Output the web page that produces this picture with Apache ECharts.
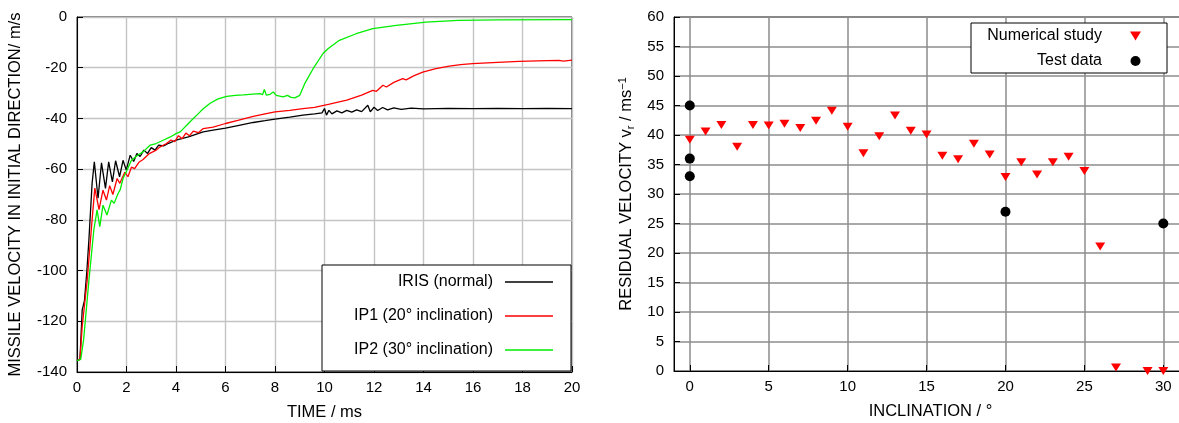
<!DOCTYPE html>
<html>
<head>
<meta charset="utf-8">
<script src="https://cdn.jsdelivr.net/npm/echarts@6/dist/echarts.min.js"></script>
<style>
  html, body { margin: 0; padding: 0; background: #fff; }
  #main { width: 1179px; height: 423px; }
</style>
</head>
<body>
<div id="main"></div>
<script>
// left plot: missile velocity vs time
const irisT = [0, 0.12, 0.21, 0.3, 0.4, 0.48, 0.61, 0.7, 0.85, 0.99, 1.15, 1.28, 1.43, 1.56, 1.72, 1.86, 1.99, 2.15, 2.29,
  2.42, 2.55, 2.7, 2.85, 3.0, 3.15, 3.3, 3.5, 3.7, 4.0, 4.5, 5.1, 5.5, 6.0, 6.5, 7.12, 7.6, 8.0, 8.6, 9.13, 9.6, 9.9,
  10.0, 10.08, 10.18, 10.3, 10.5, 10.7, 10.9, 11.1, 11.3, 11.5, 11.75, 11.85, 12.0, 12.15, 12.35, 12.55, 12.8, 13.1,
  13.5, 14, 15, 16, 17, 18, 19, 20]
const irisV = [-135.5, -135, -115.5, -112, -100, -88, -65.6, -57.1, -71.5, -57.5, -67.6, -57.1, -65, -56.7, -63, -56.5, -60.4, -54.5, -57,
  -53.8, -55, -52.5, -53.8, -51.5, -52.5, -50.5, -50.8, -49.8, -48.6, -47.3, -45.3, -44.6, -43.8, -42.8, -41.6, -40.9, -40.3, -39.5, -38.7, -38.2, -37.8,
  -36.1, -38.7, -36.8, -38.2, -37, -37.8, -36.8, -37.5, -36.6, -37.3, -34.8, -37.4, -35.6, -36.9, -35.7, -36.6, -35.8, -36.4,
  -35.9, -36.2, -36, -36.1, -36, -36.1, -36, -36.1]

const ip1T = [0, 0.12, 0.21, 0.41, 0.61, 0.72, 0.89, 1.05, 1.19, 1.32, 1.45, 1.62, 1.73, 1.93, 2.06, 2.2, 2.33, 2.5, 2.67, 2.9,
  3.2, 3.36, 3.6, 3.8, 3.95, 4.1, 4.25, 4.4, 4.55, 4.7, 4.9, 5.1, 5.5, 6.0, 6.5, 7.12, 7.6, 8.0, 8.6, 9.13, 9.6, 10.2,
  10.9, 11.5, 11.95, 12.1, 12.36, 12.5, 12.8, 13.16, 13.3, 13.6, 13.97, 14.5, 15.04, 15.5, 15.98, 17, 17.86, 19.0,
  19.47, 19.55, 19.65, 20]
const ip1V = [-135.5, -135, -122, -104, -80, -67.5, -76, -68.3, -72.2, -66.5, -70, -63.7, -65.6, -61.2, -63, -59.2, -59.8, -57.3, -56.2, -54,
  -52.5, -51.2, -50, -48.5, -49.2, -46.8, -48, -45.8, -46.8, -45, -45.6, -44, -43.4, -42, -40.8, -39.2, -38.2, -37.4, -36.8, -36.1, -35.6, -34.4,
  -32.8, -30.8, -28.9, -29.3, -26.9, -27.6, -25.8, -24.3, -24.8, -23.2, -21.7, -20.4, -19.4, -18.8, -18.4, -17.9, -17.5, -17.2,
  -17.1, -16.5, -17.4, -17]

const ip2T = [0, 0.15, 0.27, 0.48, 0.68, 0.81, 0.92, 1.05, 1.21, 1.39, 1.5, 1.66, 1.75, 1.86, 1.99, 2.2, 2.45, 2.67, 2.96,
  3.2, 3.5, 3.77, 4.0, 4.17, 4.45, 4.7, 4.84, 5.1, 5.38, 5.7, 6.05, 6.4, 6.72, 7.1, 7.39, 7.5, 7.57, 7.65, 7.8, 7.93,
  8.05, 8.33, 8.5, 8.65, 8.8, 9.0, 9.2, 9.54, 9.94, 10.14, 10.6, 11.28, 11.95, 12.9, 14.1, 15.4, 17, 20]
const ip2V = [-135.5, -135, -127, -104, -84, -76.1, -82.7, -74.2, -78.1, -72.2, -73.5, -69.6, -68, -63.7, -61, -56.5, -54.5, -53.2, -50.5,
  -49.9, -48.5, -47.3, -46, -45.3, -42.5, -40, -38.7, -36.2, -34, -32.3, -31.3, -30.9, -30.7, -30.4, -30.2, -30.6, -28.6, -30.8, -30.5, -29.6,
  -30.9, -31.5, -30.9, -31.7, -31.9, -30.9, -26.3, -20.4, -14.4, -12.5, -9.2, -6.6, -4.6, -3.3, -2, -1.3, -1.1, -1]

// right plot: residual velocity vs inclination
const numX = [0, 1, 2, 3, 4, 5, 6, 7, 8, 9, 10, 11, 12, 13, 14, 15, 16, 17, 18, 19, 20, 21, 22, 23, 24, 25, 26, 27, 29, 30]
const numV = [39.2, 40.6, 41.7, 38.0, 41.7, 41.6, 41.9, 41.2, 42.4, 44.1, 41.4, 36.9, 39.8, 43.3, 40.7, 40.1, 36.5, 35.9, 38.5, 36.7,
  32.9, 35.4, 33.3, 35.4, 36.3, 33.9, 21.1, 0.6, 0, 0]
const testX = [0, 0, 0, 20, 30]
const testV = [45, 36, 33, 27, 25]

const zip = (xs, ys) => xs.map((x, i) => [x, ys[i]])

const font = 'Liberation Sans'
const tickLabel = { color: '#000', fontSize: 15, fontFamily: font }
const nameStyle = { color: '#000', fontSize: 16.5, fontFamily: font }
const downTriangle = 'path://M0,0L10,0L5,8Z'

const option = {
  animation: false,
  backgroundColor: '#fff',
  textStyle: { fontFamily: font },
  grid: [
    { left: 77, width: 495, top: 17, height: 355, outerBoundsMode: 'none', show: true, borderColor: '#000', borderWidth: 1 },
    { left: 674, width: 513, top: 17, height: 354, outerBoundsMode: 'none', show: true, borderColor: '#000', borderWidth: 1 }
  ],
  legend: [
    {
      data: ['IRIS (normal)', 'IP1 (20° inclination)', 'IP2 (30° inclination)'],
      left: 322,
      top: 265,
      orient: 'vertical',
      align: 'right',
      icon: 'rect',
      itemWidth: 48,
      itemHeight: 1.5,
      itemGap: 18,
      padding: [9, 18, 13, 10],
      borderColor: '#000',
      borderWidth: 1,
      backgroundColor: '#fff',
      formatter: name => '{a|' + name + '}',
      textStyle: {
        rich: { a: { width: 161, align: 'right', padding: [0, 7, 0, 0], fontSize: 16, lineHeight: 20, color: '#000', fontFamily: font } }
      }
    },
    {
      data: [{ name: 'Numerical study', icon: downTriangle }, { name: 'Test data', icon: 'circle' }],
      left: 971,
      top: 23,
      orient: 'vertical',
      align: 'right',
      itemWidth: 11,
      itemHeight: 10,
      itemGap: 9,
      padding: [5, 26, 4, 10],
      borderColor: '#000',
      borderWidth: 1,
      backgroundColor: '#fff',
      formatter: name => '{a|' + name + '}',
      textStyle: {
        rich: { a: { width: 121, align: 'right', padding: [0, 23, 0, 0], fontSize: 16, lineHeight: 20, color: '#000', fontFamily: font } }
      }
    }
  ],
  xAxis: [
    {
      gridIndex: 0,
      type: 'value',
      min: 0,
      max: 20,
      interval: 2,
      name: 'TIME / ms',
      nameLocation: 'middle',
      nameGap: 32,
      nameTextStyle: nameStyle,
      axisLine: { onZero: false, lineStyle: { color: '#000' } },
      axisTick: { inside: true, length: 6, lineStyle: { color: '#000' } },
      axisLabel: Object.assign({ margin: 8 }, tickLabel),
      splitLine: { show: true, lineStyle: { color: '#c4c4c4', width: 1.4 } }
    },
    {
      gridIndex: 1,
      type: 'value',
      min: -1,
      max: 31.5,
      splitNumber: 6,
      name: 'INCLINATION / °',
      nameLocation: 'middle',
      nameGap: 32,
      nameTextStyle: nameStyle,
      axisLine: { onZero: false, lineStyle: { color: '#000' } },
      axisTick: { inside: true, length: 6, lineStyle: { color: '#000' } },
      axisLabel: Object.assign({ margin: 8, formatter: v => (v % 5 === 0 ? String(v) : '') }, tickLabel),
      splitLine: { show: true, lineStyle: { color: '#8c8c8c', width: 1.5 } }
    }
  ],
  yAxis: [
    {
      gridIndex: 0,
      type: 'value',
      min: -140,
      max: 0,
      interval: 20,
      name: 'MISSILE VELOCITY IN INITIAL DIRECTION/ m/s',
      nameLocation: 'middle',
      nameGap: 53,
      nameTextStyle: nameStyle,
      axisLine: { onZero: false, lineStyle: { color: '#000' } },
      axisTick: { inside: true, length: 6, lineStyle: { color: '#000' } },
      axisLabel: Object.assign({ margin: 10 }, tickLabel),
      splitLine: { show: true, lineStyle: { color: '#c4c4c4', width: 1.4 } }
    },
    {
      gridIndex: 1,
      type: 'value',
      min: 0,
      max: 60,
      interval: 5,
      name: '{t|RESIDUAL VELOCITY v}{sub|r}{t| / ms}{sup|−1}',
      nameLocation: 'middle',
      nameGap: 38,
      nameTextStyle: {
        rich: {
          t: { fontSize: 16.5, color: '#000', fontFamily: font },
          sub: { fontSize: 11, color: '#000', fontFamily: font, verticalAlign: 'bottom', padding: [8, 0, 0, 0] },
          sup: { fontSize: 11, color: '#000', fontFamily: font, verticalAlign: 'top', padding: [0, 0, 8, 0] }
        }
      },
      axisLine: { onZero: false, lineStyle: { color: '#000' } },
      axisTick: { inside: true, length: 6, lineStyle: { color: '#000' } },
      axisLabel: Object.assign({ margin: 10 }, tickLabel),
      splitLine: { show: true, lineStyle: { color: '#8c8c8c', width: 1.5 } }
    }
  ],
  series: [
    {
      name: 'IRIS (normal)',
      type: 'line',
      xAxisIndex: 0,
      yAxisIndex: 0,
      symbol: 'none',
      data: zip(irisT, irisV),
      itemStyle: { color: '#000' },
      lineStyle: { color: '#000', width: 1.3 }
    },
    {
      name: 'IP1 (20° inclination)',
      type: 'line',
      xAxisIndex: 0,
      yAxisIndex: 0,
      symbol: 'none',
      data: zip(ip1T, ip1V),
      itemStyle: { color: '#ff0000' },
      lineStyle: { color: '#ff0000', width: 1.3 }
    },
    {
      name: 'IP2 (30° inclination)',
      type: 'line',
      xAxisIndex: 0,
      yAxisIndex: 0,
      symbol: 'none',
      data: zip(ip2T, ip2V),
      itemStyle: { color: '#00ee00' },
      lineStyle: { color: '#00ee00', width: 1.3 }
    },
    {
      name: 'Numerical study',
      type: 'scatter',
      xAxisIndex: 1,
      yAxisIndex: 1,
      symbol: downTriangle,
      symbolSize: [10, 8],
      clip: false,
      data: zip(numX, numV),
      itemStyle: { color: '#ff0000', opacity: 1 }
    },
    {
      name: 'Test data',
      type: 'scatter',
      xAxisIndex: 1,
      yAxisIndex: 1,
      symbol: 'circle',
      symbolSize: 10,
      clip: false,
      data: zip(testX, testV),
      itemStyle: { color: '#000', opacity: 1 }
    }
  ]
}

const chart = echarts.init(document.getElementById('main'))
chart.setOption(option)
</script>
</body>
</html>
